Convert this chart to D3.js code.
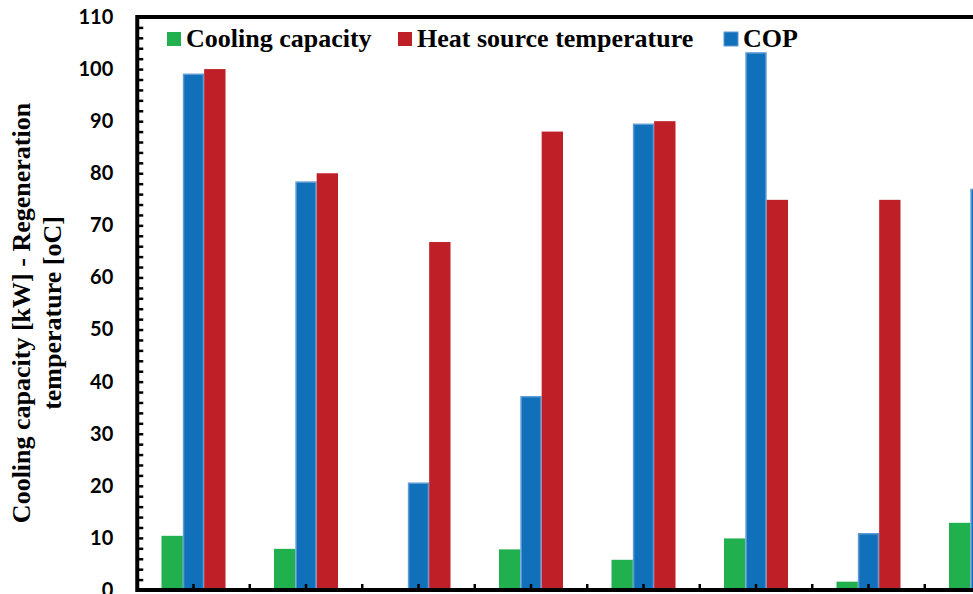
<!DOCTYPE html>
<html>
<head>
<meta charset="utf-8">
<script src="https://cdn.jsdelivr.net/npm/d3@7"></script>
<style>
  body { margin: 0; background: #fff; }
  svg { display: block; }
</style>
</head>
<body>
<svg></svg>
<script>
// chart data
var cases = ['1', '2', '3', '4', '5', '6', '7', '8'];
var coolingCapacity = [10.4, 7.9, 0, 7.8, 5.8, 9.9, 1.6, 12.9];
var copValues = [99.0, 78.3, 20.5, 37.1, 89.4, 103.1, 10.8, 76.9];
var heatSourceTemp = [100, 80, 66.8, 88, 90, 74.9, 74.9, null]; // last one is off the picture
var yTicks = d3.range(0, 111, 2);

var series = [
	{ key: 'cooling', name: 'Cooling capacity', values: coolingCapacity, fill: '#21b04e', stroke: 'none' },
	{ key: 'cop', name: 'COP', values: copValues, fill: '#1170ba', stroke: '#5d9ad6' },
	{ key: 'heat', name: 'Heat source temperature', values: heatSourceTemp, fill: '#bf1f27', stroke: 'none' }
];
var legendOrder = ['cooling', 'heat', 'cop'];

// svg measurements
var width = 973,
	height = 594,
	plotLeft = 137.25,
	plotTop = 17,
	plotBottom = 590,
	groupStep = 112.5;

var svg = d3.select('svg')
			.attr('width', width)
			.attr('height', height);

var xScale = d3.scaleBand() // one band per case
				.domain(cases)
				.range([plotLeft, plotLeft + groupStep * cases.length])
				.padding(0);

var bw = xScale.bandwidth();
var xSub = d3.scaleBand() // bars inside a case
				.domain(series.map(s => s.key))
				.range([bw / 2 - 32, bw / 2 + 32]);

var yScale = d3.scaleLinear()
				.domain([0, 110])
				.range([plotBottom, plotTop]);

// bars
series.forEach(function(s) {
	var inset = s.stroke === 'none' ? 0 : 0.75;
	svg.append('g')
		.selectAll('rect')
		.data(cases.map((c, i) => ({ c: c, v: s.values[i] })).filter(d => d.v !== null && d.v > 0))
		.enter()
		.append('rect')
			.attr('x', d => xScale(d.c) + xSub(s.key) + inset)
			.attr('y', d => yScale(d.v))
			.attr('width', xSub.bandwidth() - 2 * inset)
			.attr('height', d => plotBottom - yScale(d.v))
			.attr('fill', s.fill)
			.attr('stroke', s.stroke)
			.attr('stroke-width', 1.5);
});

// y axis: inside ticks every 2, labels every 10
var yAxis = d3.axisLeft(yScale)
			  .tickValues(yTicks)
			  .tickSize(-6)
			  .tickPadding(24)
			  .tickFormat(d => d % 10 === 0 ? d : '');

var gy = svg.append('g')
	.attr('transform', 'translate(' + plotLeft + ',0)')
	.call(yAxis);
gy.select('.domain').remove();
gy.selectAll('.tick line').attr('stroke', '#000').attr('stroke-width', 2.5);
gy.selectAll('.tick text')
	.attr('fill', '#000')
	.style('font-family', 'Lato, "Open Sans", sans-serif')
	.style('font-weight', 'bold')
	.style('font-size', '20px');

// x axis: inside ticks at case centres and case boundaries
var xAxis = d3.axisBottom(xScale)
			  .tickSize(-6)
			  .tickFormat(() => '');

var gx = svg.append('g')
	.attr('transform', 'translate(0,' + plotBottom + ')')
	.call(xAxis);
gx.select('.domain').remove();
gx.selectAll('.tick line').attr('stroke', '#000').attr('stroke-width', 2.5);

gx.selectAll('.edge')
	.data(cases.slice(1))
	.enter()
	.append('line')
		.attr('x1', d => xScale(d))
		.attr('x2', d => xScale(d))
		.attr('y1', 0)
		.attr('y2', -6)
		.attr('stroke', '#000')
		.attr('stroke-width', 2.5);

// plot frame
svg.append('rect')
	.attr('x', plotLeft)
	.attr('y', plotTop)
	.attr('width', groupStep * cases.length)
	.attr('height', plotBottom - plotTop)
	.attr('fill', 'none')
	.attr('stroke', '#000')
	.attr('stroke-width', 4);

// legend
var legendX = [167, 398, 724];
var legend = svg.append('g')
	.selectAll('g')
	.data(legendOrder.map(k => series.find(s => s.key === k)))
	.enter()
	.append('g')
		.attr('transform', (d, i) => 'translate(' + legendX[i] + ',32)');

legend.append('rect')
	.attr('width', 14)
	.attr('height', 14)
	.attr('fill', d => d.fill)
	.attr('stroke', d => d.stroke === 'none' ? 'none' : d.stroke)
	.attr('stroke-width', 1);

legend.append('text')
	.attr('x', 19)
	.attr('y', 15)
	.style('font-family', '"Liberation Serif", "Times New Roman", serif')
	.style('font-weight', 'bold')
	.style('font-size', '26px')
	.text(d => d.name);

// y axis title
var yTitle = svg.append('text')
	.attr('transform', 'translate(0,313) rotate(-90)')
	.style('text-anchor', 'middle')
	.style('font-family', '"Liberation Serif", "Times New Roman", serif')
	.style('font-weight', 'bold')
	.style('font-size', '26px');

yTitle.append('tspan')
	.attr('x', 0)
	.attr('y', 30)
	.text('Cooling capacity [kW] - Regeneration');

yTitle.append('tspan')
	.attr('x', 0)
	.attr('y', 61)
	.text('temperature [oC]');
</script>
</body>
</html>
